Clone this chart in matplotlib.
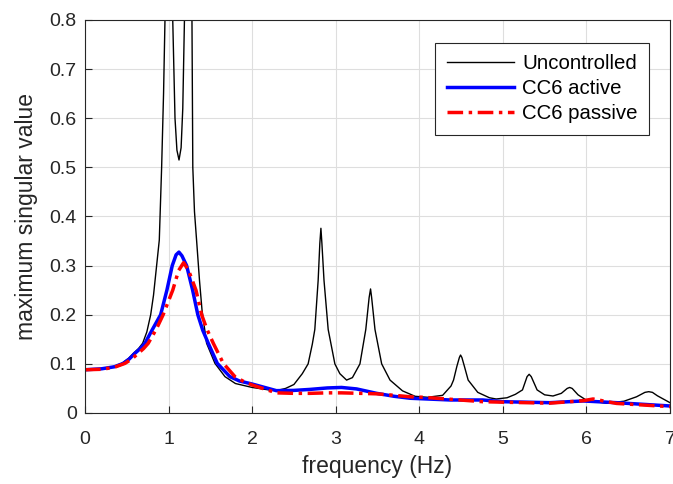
import numpy as np
import matplotlib
matplotlib.use("Agg")
import matplotlib.pyplot as plt

# values
f_unc = [0.0, 0.2, 0.35, 0.44, 0.52, 0.58, 0.64, 0.69, 0.74, 0.786, 0.82, 0.857, 0.889,
         0.917, 0.94, 0.957, 0.975, 0.99, 1.005, 1.02, 1.035, 1.05, 1.077, 1.10, 1.125,
         1.15, 1.17, 1.19, 1.21, 1.235, 1.26, 1.28, 1.29, 1.31, 1.336, 1.37, 1.40,
         1.455, 1.555, 1.675, 1.8, 2.0, 2.2, 2.3, 2.4, 2.5, 2.6, 2.67, 2.72, 2.75, 2.79,
         2.81, 2.823, 2.835, 2.86, 2.91, 2.99, 3.05, 3.13, 3.2, 3.29, 3.36, 3.40, 3.417,
         3.43, 3.47, 3.55, 3.65, 3.8, 3.95, 4.1, 4.28, 4.38, 4.41, 4.45, 4.48, 4.494,
         4.51, 4.54, 4.585, 4.7, 4.84, 4.92, 5.05, 5.15, 5.235, 5.29, 5.315, 5.34, 5.41,
         5.5, 5.6, 5.7, 5.77, 5.80, 5.83, 5.9, 6.0, 6.24, 6.45, 6.6, 6.70, 6.746, 6.79,
         6.85, 7.0]
v_unc = [0.088, 0.090, 0.095, 0.101, 0.111, 0.1216, 0.131, 0.142, 0.165, 0.200, 0.240,
         0.300, 0.352, 0.50, 0.65, 0.80, 1.10, 1.60, 2.20, 1.60, 1.10, 0.80, 0.60, 0.535,
         0.515, 0.54, 0.62, 0.80, 1.20, 2.00, 1.20, 0.80, 0.50, 0.41, 0.35, 0.27, 0.21,
         0.142, 0.101, 0.074, 0.060, 0.052, 0.047, 0.046, 0.050, 0.058, 0.080, 0.10,
         0.14, 0.17, 0.27, 0.345, 0.376, 0.345, 0.27, 0.17, 0.10, 0.08, 0.067, 0.072,
         0.10, 0.17, 0.235, 0.2525, 0.235, 0.17, 0.10, 0.067, 0.045, 0.034, 0.032,
         0.036, 0.055, 0.067, 0.095, 0.113, 0.118, 0.113, 0.095, 0.067, 0.042, 0.031,
         0.0285, 0.031, 0.038, 0.047, 0.074, 0.0788, 0.074, 0.047, 0.037, 0.0346,
         0.040, 0.050, 0.052, 0.050, 0.037, 0.026, 0.0197, 0.024, 0.033, 0.042,
         0.0434, 0.042, 0.035, 0.021]

f_act = [0.0, 0.2, 0.35, 0.458, 0.53, 0.598, 0.66, 0.718, 0.80, 0.905, 0.98, 1.044,
         1.09, 1.124, 1.16, 1.216, 1.288, 1.35, 1.41, 1.475, 1.583, 1.734, 1.85, 2.0,
         2.29, 2.5, 2.69, 2.9, 3.07, 3.25, 3.49, 3.7, 3.89, 4.37, 4.76, 5.0, 5.56, 5.96,
         6.36, 7.0]
v_act = [0.088, 0.090, 0.094, 0.101, 0.110, 0.1216, 0.131, 0.142, 0.168, 0.200, 0.250,
         0.300, 0.322, 0.3275, 0.320, 0.300, 0.250, 0.200, 0.168, 0.142, 0.101, 0.074,
         0.065, 0.059, 0.0455, 0.046, 0.048, 0.051, 0.052, 0.049, 0.040, 0.034, 0.030,
         0.0265, 0.0265, 0.023, 0.021, 0.0245, 0.021, 0.0143]

f_pas = [0.0, 0.2, 0.35, 0.478, 0.56, 0.638, 0.70, 0.757, 0.857, 0.935, 1.05, 1.12,
         1.18, 1.24, 1.328, 1.396, 1.46, 1.535, 1.655, 1.794, 1.9, 2.0, 2.29, 2.5, 2.69,
         2.9, 3.07, 3.3, 3.49, 3.7, 3.89, 4.05, 4.37, 4.76, 5.0, 5.56, 5.96, 6.08, 6.36,
         7.0]
v_pas = [0.088, 0.089, 0.093, 0.101, 0.110, 0.1216, 0.131, 0.142, 0.172, 0.200, 0.250,
         0.290, 0.306, 0.290, 0.250, 0.200, 0.170, 0.142, 0.101, 0.074, 0.064, 0.057,
         0.041, 0.040, 0.040, 0.041, 0.041, 0.040, 0.039, 0.036, 0.033, 0.032, 0.028,
         0.023, 0.022, 0.020, 0.025, 0.0285, 0.0195, 0.013]

plt.rcParams["font.family"] = ["Liberation Sans", "DejaVu Sans"]

fig = plt.figure(figsize=(6.73, 4.84), dpi=100)
ax = fig.add_axes([0.1263, 0.1467, 0.8692, 0.812])

ax.plot(f_unc, v_unc, color="black", lw=1.0, label="Uncontrolled")
ax.plot(f_act, v_act, color="blue", lw=2.5, label="CC6 active")
ax.plot(f_pas, v_pas, color="red", lw=2.5, ls=(0, (4.5, 1.6, 1.0, 1.6)),
        label="CC6 passive")

ax.set_xlim(0, 7)
ax.set_ylim(0, 0.8)
ax.set_xticks(np.arange(0, 8, 1))
ax.set_yticks(np.arange(0, 0.81, 0.1))
ax.set_yticklabels(["0", "0.1", "0.2", "0.3", "0.4", "0.5", "0.6", "0.7", "0.8"])
ax.grid(True, color="#dedede", lw=0.8)
ax.set_axisbelow(True)
ax.tick_params(direction="in", labelsize=14, length=5, color="#262626",
               top=False, right=False, labelcolor="#262626")
ax.tick_params(axis="x", pad=13)
ax.tick_params(axis="y", pad=6)
for s in ax.spines.values():
    s.set_color("#262626")
    s.set_linewidth(0.8)
ax.set_xlabel("frequency (Hz)", fontsize=16.5, color="#262626", labelpad=5)
ax.set_ylabel("maximum singular value", fontsize=16.5, color="#262626", labelpad=8)

leg = ax.legend(loc="upper right", bbox_to_anchor=(0.964, 0.9415), borderaxespad=0,
                fontsize=14.7, fancybox=False, framealpha=1, edgecolor="#262626",
                handlelength=3.3, handletextpad=0.4, borderpad=0.55,
                labelspacing=0.3)
leg.get_frame().set_linewidth(0.8)

fig.savefig("out.png", dpi=100)
